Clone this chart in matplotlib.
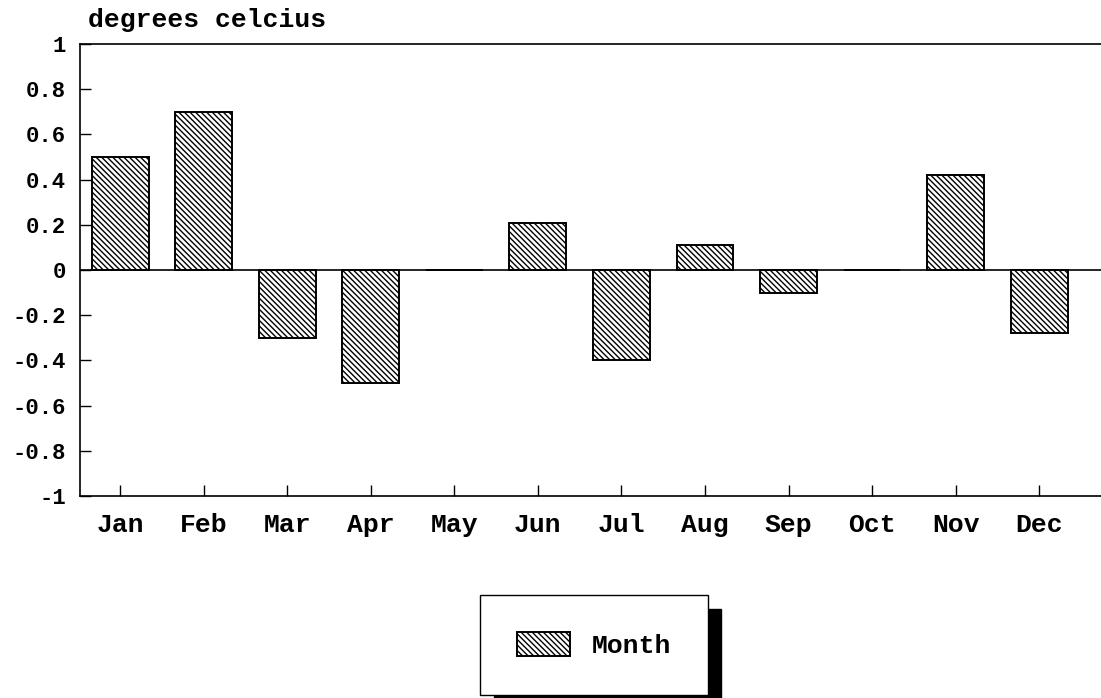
import matplotlib
matplotlib.use("Agg")
import matplotlib.pyplot as plt

months = ["Jan", "Feb", "Mar", "Apr", "May", "Jun",
          "Jul", "Aug", "Sep", "Oct", "Nov", "Dec"]
anomaly = [0.50, 0.70, -0.30, -0.50, 0.0, 0.21,
           -0.40, 0.11, -0.10, 0.0, 0.42, -0.28]
yticks = [-1, -0.8, -0.6, -0.4, -0.2, 0, 0.2, 0.4, 0.6, 0.8, 1]
ytick_labels = ["-1", "-0.8", "-0.6", "-0.4", "-0.2", "0",
                "0.2", "0.4", "0.6", "0.8", "1"]

plt.rcParams["font.family"] = ["Liberation Mono", "DejaVu Sans Mono"]
plt.rcParams["hatch.linewidth"] = 1.0

fig = plt.figure(figsize=(11.01, 6.98), dpi=100)
ax = fig.add_axes([80 / 1101, 1 - 496 / 698, 1021 / 1101, 452 / 698])

x = range(len(months))
ax.bar(x, anomaly, width=0.68, facecolor="white", edgecolor="black",
       hatch="\\\\\\\\\\\\", linewidth=1.4, label="Month")
ax.axhline(0, color="black", linewidth=1.2)

ax.set_xlim(-0.48, 11.74)
ax.set_ylim(-1, 1)
ax.set_xticks(list(x))
ax.set_xticklabels(months, fontsize=19, fontweight="bold")
ax.set_yticks(yticks)
ax.set_yticklabels(ytick_labels, fontsize=16, fontweight="bold")
ax.tick_params(axis="both", direction="in", length=8, width=1, colors="black")
ax.tick_params(axis="x", pad=12)
ax.tick_params(axis="y", pad=10)
ax.spines["right"].set_visible(False)
for s in ("left", "top", "bottom"):
    ax.spines[s].set_linewidth(1.2)

fig.text(88 / 1101, 1 - 20 / 698, "degrees celcius", fontsize=19,
         fontweight="bold", va="center", ha="left")

leg = fig.legend(loc="center", bbox_to_anchor=(594 / 1101, 1 - 645 / 698),
                 prop={"size": 19, "weight": "bold"}, frameon=True,
                 fancybox=False, edgecolor="black", handlelength=2.0,
                 handleheight=1.0, borderpad=1.4, borderaxespad=0,
                 handletextpad=0.8,
                 shadow={"color": "black", "alpha": 1, "ox": 10, "oy": -10})
leg.get_frame().set_linewidth(1.0)
leg.get_frame().set_alpha(1)

fig.savefig("out.png", dpi=100)
